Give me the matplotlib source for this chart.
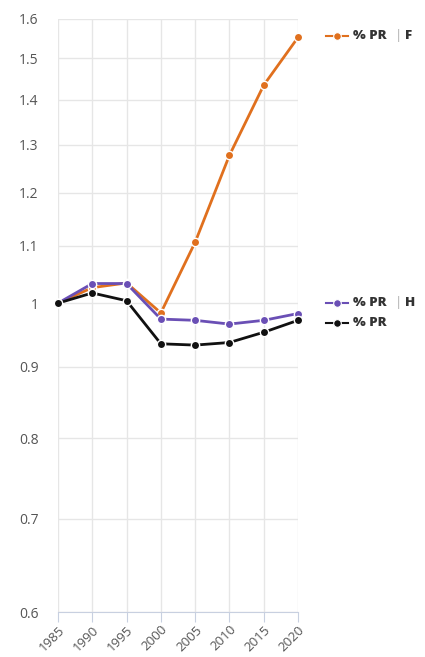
import matplotlib
matplotlib.use("Agg")
import matplotlib.pyplot as plt
from matplotlib.lines import Line2D
from matplotlib.ticker import FixedLocator, NullLocator

years = [1985, 1990, 1995, 2000, 2005, 2010, 2015, 2020]
pr_f = [1.0, 1.026, 1.034, 0.984, 1.106, 1.277, 1.434, 1.552]
pr_h = [1.0, 1.033, 1.033, 0.974, 0.972, 0.966, 0.972, 0.983]
pr_all = [1.0, 1.017, 1.004, 0.935, 0.933, 0.937, 0.953, 0.972]
yticks = [0.6, 0.7, 0.8, 0.9, 1.0, 1.1, 1.2, 1.3, 1.4, 1.5, 1.6]
ytick_labels = ["0.6", "0.7", "0.8", "0.9", "1", "1.1", "1.2", "1.3", "1.4", "1.5", "1.6"]
series = [
    ("F", pr_f, "#E0701E"),
    ("H", pr_h, "#6A4FB5"),
    ("", pr_all, "#111111"),
]

plt.rcParams['font.family'] = ['Open Sans', 'DejaVu Sans']

fig = plt.figure(figsize=(4.25, 6.57), dpi=100)
ax = fig.add_axes([58/425, 45/657, 240/425, 593/657])
ax.set_yscale('log')
ax.set_ylim(0.6, 1.6)
ax.set_xlim(1985, 2020)

ax.yaxis.set_major_locator(FixedLocator(yticks))
ax.yaxis.set_minor_locator(NullLocator())
ax.set_yticklabels(ytick_labels)
ax.set_xticks(years)
ax.set_xticklabels([str(y) for y in years], rotation=45, ha='right', rotation_mode='anchor')

ax.grid(True, color='#E6E6E6', linewidth=1)
ax.set_axisbelow(True)
for s in ['top', 'right', 'left']:
    ax.spines[s].set_visible(False)
ax.spines['bottom'].set_color('#C8D0E0')
ax.tick_params(axis='y', length=0, pad=14, labelsize=10, labelcolor='#555555')
ax.tick_params(axis='x', length=7, color='#C8D0E0', pad=1, labelsize=9.5, labelcolor='#555555')

for name, vals, col in series:
    ax.plot(years, vals, color=col, linewidth=2, marker='o', markersize=6,
            markeredgecolor='white', markeredgewidth=1, zorder=3, clip_on=False)

# legend-like labels
legend_pos = {"F": 36, "H": 303, "": 323}
for name, vals, col in series:
    ypx = legend_pos[name]
    yf = 1 - ypx/657
    x0 = 326/425
    x1 = 348/425
    fig.add_artist(Line2D([x0, x1], [yf, yf], transform=fig.transFigure, color=col, linewidth=1.5))
    fig.add_artist(Line2D([(x0+x1)/2], [yf], transform=fig.transFigure, color=col, marker='o',
                          markeredgecolor='white', markeredgewidth=0.8,
                          markersize=5.5, linestyle='none'))
    fig.text(353/425, yf, "% PR", fontsize=9.6, fontweight='heavy', color='#333333', va='center', ha='left')
    if name:
        fig.text(395/425, yf, "|", fontsize=9.6, color='#AAAAAA', va='center', ha='left')
        fig.text(405/425, yf, name, fontsize=9.6, fontweight='heavy', color='#333333', va='center', ha='left')

fig.savefig("out.png", dpi=100, facecolor='white')
